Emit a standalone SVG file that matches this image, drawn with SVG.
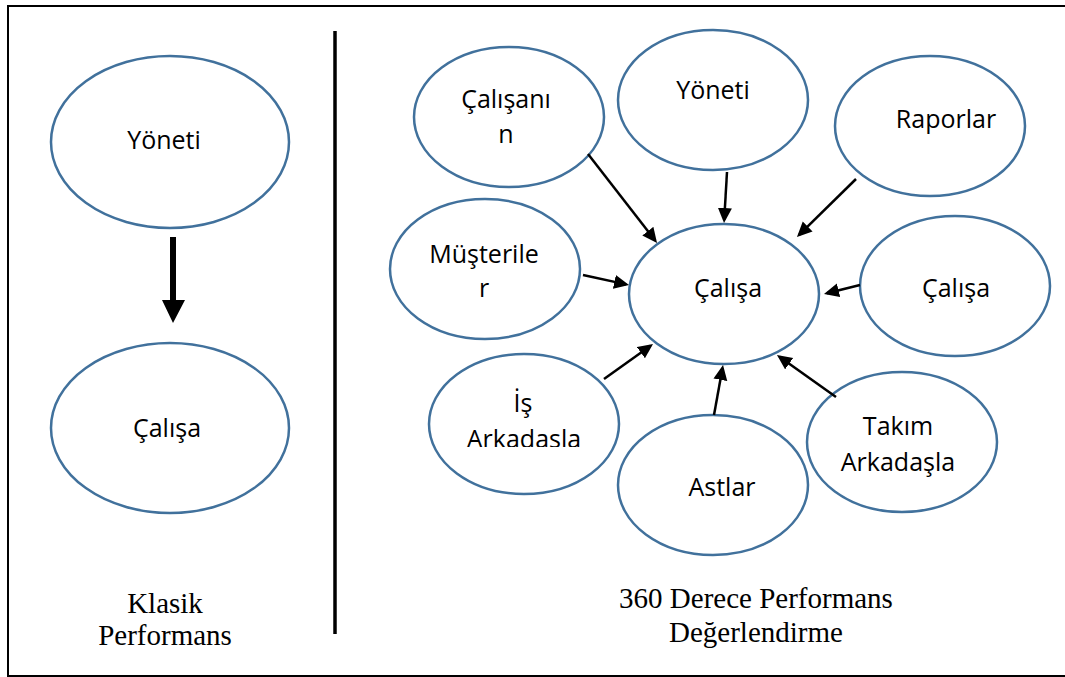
<svg xmlns="http://www.w3.org/2000/svg" width="1065" height="677" viewBox="0 0 1065 677">
<style>
.node ellipse{fill:#ffffff;stroke:#41719C;stroke-width:2.5}
.lbl{font-family:"Open Sans","Noto Sans","Liberation Sans",sans-serif;font-size:25px;fill:#000;text-anchor:middle}
.cap{font-family:"Liberation Serif","Times New Roman",serif;font-size:29px;fill:#000;text-anchor:middle}
.conn line{stroke:#000;stroke-width:2.5;marker-end:url(#ah)}
</style>
<defs>
<marker id="ah" markerUnits="userSpaceOnUse" markerWidth="16" markerHeight="15" refX="12" refY="7" orient="auto">
<path d="M0,0 L15,7 L0,14 Z" fill="#000"/>
</marker>
<clipPath id="clipIs"><rect x="420" y="380" width="210" height="67"/></clipPath>
</defs>
<rect x="0" y="0" width="1065" height="677" fill="#ffffff"/>
<rect x="8" y="6" width="1065" height="670" fill="none" stroke="#000" stroke-width="2"/>
<line x1="335" y1="31" x2="335" y2="634" stroke="#000" stroke-width="3.5"/>

<g id="left-yoneti" class="node">
<ellipse cx="170" cy="142" rx="119" ry="86"/>
<text class="lbl" x="164" y="149">Yöneti</text>
</g>
<g id="left-calisa" class="node">
<ellipse cx="170" cy="428" rx="119" ry="85"/>
<text class="lbl" x="167" y="437">Çalışa</text>
</g>
<g id="left-arrow">
<polygon points="170,237 176,237 176,300 185,300 173,323 162,300 170,300" fill="#000"/>
</g>
<g id="cap-klasik">
<text class="cap" x="165" y="613">Klasik</text>
<text class="cap" x="165" y="645">Performans</text>
</g>

<g id="n-calisanin" class="node">
<ellipse cx="509" cy="117" rx="95" ry="70"/>
<text class="lbl" x="506" y="108">Çalışanı</text>
<text class="lbl" x="506" y="143">n</text>
</g>
<g id="n-yoneti" class="node">
<ellipse cx="713" cy="100" rx="95" ry="70"/>
<text class="lbl" x="713" y="99">Yöneti</text>
</g>
<g id="n-raporlar" class="node">
<ellipse cx="930" cy="126" rx="95" ry="70"/>
<text class="lbl" x="946" y="128">Raporlar</text>
</g>
<g id="n-musteriler" class="node">
<ellipse cx="485" cy="269" rx="95" ry="70"/>
<text class="lbl" x="484" y="263">Müşterile</text>
<text class="lbl" x="484" y="297">r</text>
</g>
<g id="n-center" class="node">
<ellipse cx="724" cy="294" rx="95" ry="70"/>
<text class="lbl" x="728" y="297">Çalışa</text>
</g>
<g id="n-calisa-right" class="node">
<ellipse cx="955" cy="286" rx="95" ry="70"/>
<text class="lbl" x="956" y="297">Çalışa</text>
</g>
<g id="n-is" class="node">
<ellipse cx="524" cy="424" rx="95" ry="70"/>
<text class="lbl" x="523" y="412">İş</text>
<text class="lbl" x="524" y="448" clip-path="url(#clipIs)">Arkadasla</text>
</g>
<g id="n-astlar" class="node">
<ellipse cx="713" cy="485" rx="95" ry="70"/>
<text class="lbl" x="722" y="496">Astlar</text>
</g>
<g id="n-takim" class="node">
<ellipse cx="902" cy="442" rx="95" ry="70"/>
<text class="lbl" x="898" y="435">Takım</text>
<text class="lbl" x="898" y="471">Arkadaşla</text>
</g>
<g id="cap-360">
<text class="cap" x="756" y="608">360 Derece Performans</text>
<text class="cap" x="756" y="642">Değerlendirme</text>
</g>

<g id="connectors" class="conn">
<line x1="588" y1="154" x2="655.2" y2="240.6"/>
<line x1="727" y1="172" x2="724.2" y2="220"/>
<line x1="856" y1="179" x2="799.1" y2="234.9"/>
<line x1="583" y1="275" x2="626.1" y2="284.4"/>
<line x1="860" y1="285" x2="826.9" y2="293.3"/>
<line x1="604" y1="379" x2="650.6" y2="345.7"/>
<line x1="714" y1="415" x2="722.5" y2="368"/>
<line x1="836" y1="397" x2="779.4" y2="356.7"/>
</g>
</svg>
